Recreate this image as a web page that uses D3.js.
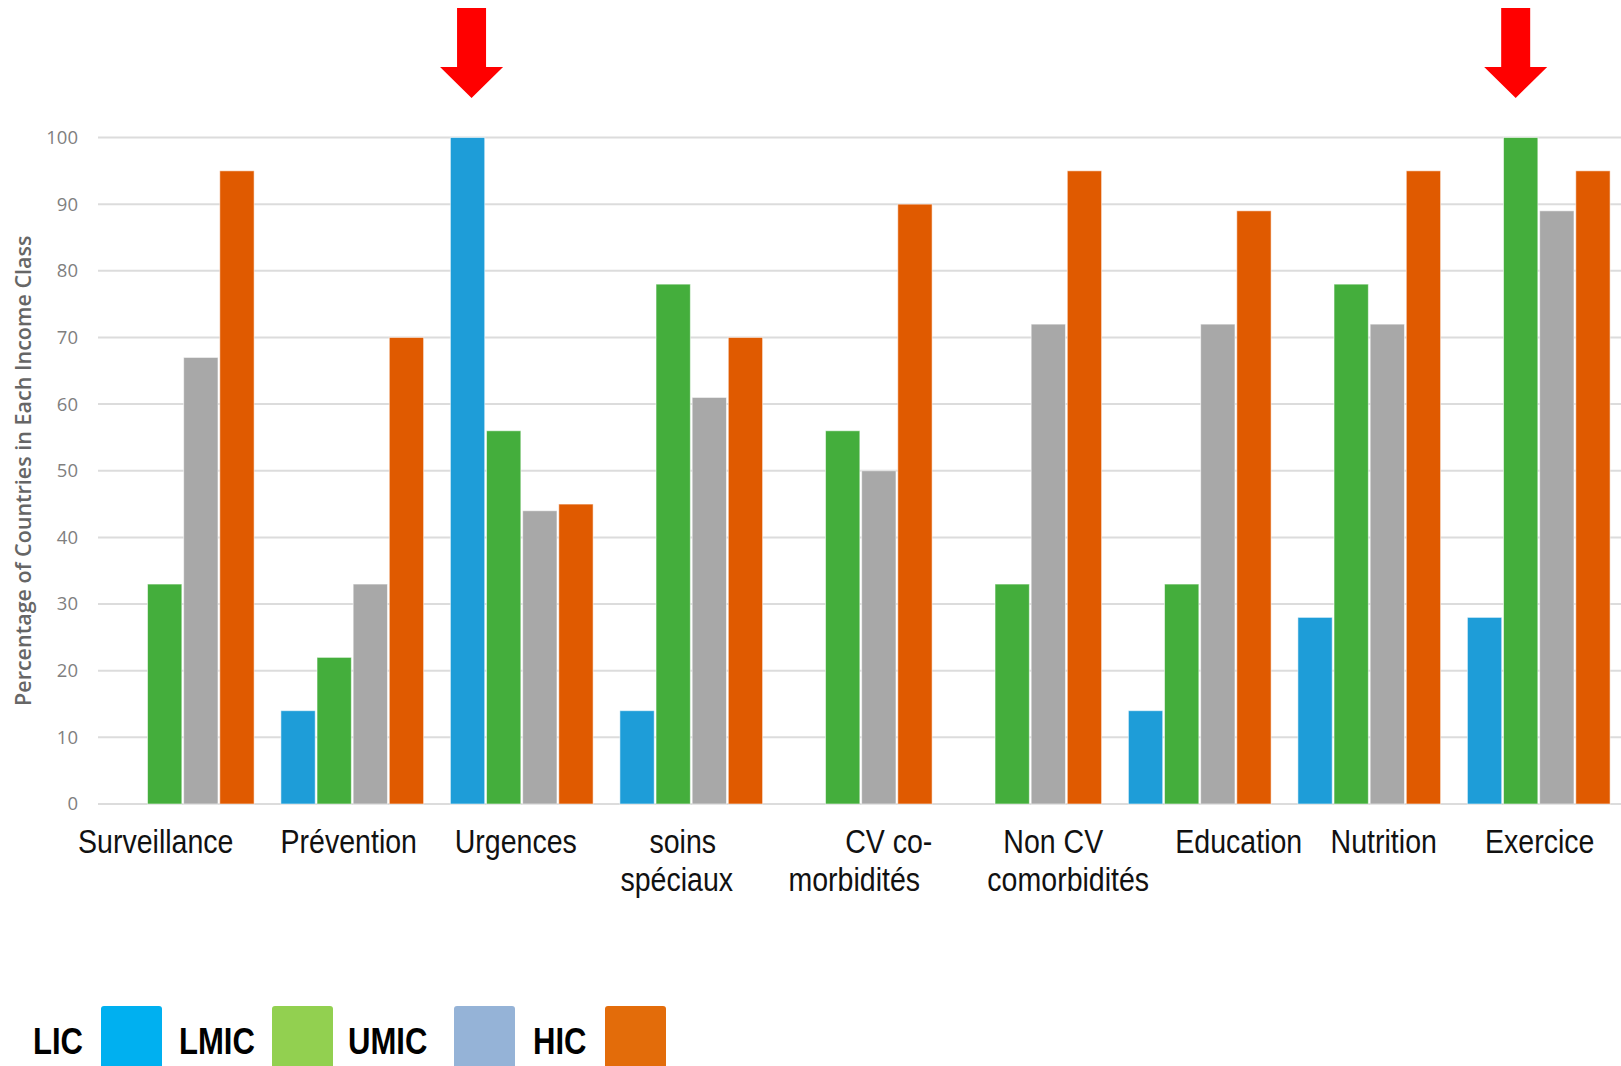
<!DOCTYPE html>
<html>
<head>
<meta charset="utf-8">
<script src="https://cdn.jsdelivr.net/npm/d3@7/dist/d3.min.js"></script>
<style>
  html, body { margin: 0; padding: 0; background: #ffffff; }
  svg { display: block; }
</style>
</head>
<body>
<svg id="chart" width="1621" height="1066"></svg>
<script>
// Interventions (categories), each label split into its display lines
const categories = [
  "Surveillance", "Prévention", "Urgences", "soins spéciaux", "CV co-morbidités",
  "Non CV comorbidités", "Education", "Nutrition", "Exercice"
];
const categoryLines = [
  ["Surveillance"], ["Prévention"], ["Urgences"], ["soins", "spéciaux"], ["CV co-", "morbidités"],
  ["Non CV", "comorbidités"], ["Education"], ["Nutrition"], ["Exercice"]
];

// Income classes
const series = ["LIC", "LMIC", "UMIC", "HIC"];

// Percentage of countries in each income class, per intervention
const lic  = [0, 14, 100, 14, 0, 0, 14, 28, 28];
const lmic = [33, 22, 56, 78, 56, 33, 33, 78, 100];
const umic = [67, 33, 44, 61, 50, 72, 72, 72, 89];
const hic  = [95, 70, 45, 70, 90, 95, 89, 95, 95];

// Y axis ticks
const yTicks = [0, 10, 20, 30, 40, 50, 60, 70, 80, 90, 100];

// Bars singled out with an arrow: [category, income class]
const highlights = [["Urgences", "LIC"], ["Exercice", "LMIC"]];

const seriesValues = { LIC: lic, LMIC: lmic, UMIC: umic, HIC: hic };
const barColors    = { LIC: "#1e9dd8", LMIC: "#44ae3c", UMIC: "#a8a8a8", HIC: "#e05a00" };
const legendColors = { LIC: "#00b0f0", LMIC: "#92d050", UMIC: "#95b3d7", HIC: "#e36c0a" };

// Layout tweaks: per-line label nudges (px from group centre), arrow nudges,
// and the legend's text / swatch positions
const labelNudge = [[-27], [-3.5], [-6], [-8.5, -14.5], [28, -6.5], [23, 38], [39], [14.5], [1]];
const arrowNudge = [4, -5];
const legendTextX = [33, 179, 348, 533];
const legendBoxX  = [101, 272, 454, 605];

// Condensed look for the label typeface
const squeeze = 0.84;

const svg = d3.select("#chart");

const plotLeft = 98, plotRight = 1623.5, plotTop = 137.5, plotBottom = 804;

const x0 = d3.scaleBand()
  .domain(categories)
  .range([plotLeft, plotRight])
  .paddingInner(0.158)
  .paddingOuter(0.079);

const x1 = d3.scaleBand()
  .domain(series)
  .range([0, x0.bandwidth()])
  .paddingInner(0.05);

const y = d3.scaleLinear().domain([0, 100]).range([plotBottom, plotTop]);

// Gridlines
svg.append("g")
  .selectAll("line")
  .data(yTicks)
  .join("line")
  .attr("x1", plotLeft)
  .attr("x2", 1621)
  .attr("y1", d => y(d))
  .attr("y2", d => y(d))
  .attr("stroke", "#dcdcdc")
  .attr("stroke-width", 2);

// Y axis tick labels
const yAxis = d3.axisLeft(y).tickValues(yTicks).tickSize(0).tickPadding(0);
const yAxisG = svg.append("g")
  .attr("transform", `translate(${78},0)`)
  .call(yAxis);
yAxisG.select(".domain").remove();
yAxisG.selectAll("text")
  .attr("font-family", "'Open Sans', sans-serif")
  .attr("font-size", 18.5)
  .attr("fill", "#7f7f7f");

// Y axis title
svg.append("text")
  .attr("transform", `translate(31,${(plotTop + plotBottom) / 2}) rotate(-90)`)
  .attr("text-anchor", "middle")
  .attr("font-family", "'Open Sans', sans-serif")
  .attr("font-weight", 600)
  .attr("font-size", 21.5)
  .attr("fill", "#666666")
  .text("Percentage of Countries in Each Income Class");

// Bars
const groups = svg.append("g")
  .selectAll("g")
  .data(categories)
  .join("g")
  .attr("transform", d => `translate(${x0(d)},0)`);

groups.selectAll("rect")
  .data((cat, i) => series.map(s => ({ cat, s, v: seriesValues[s][i] })))
  .join("rect")
  .filter(d => d.v > 0)
  .attr("x", d => x1(d.s))
  .attr("y", d => y(d.v))
  .attr("width", x1.bandwidth())
  .attr("height", d => y(0) - y(d.v))
  .attr("fill", d => barColors[d.s])
  .attr("stroke", "rgba(255,255,255,0.55)")
  .attr("stroke-width", 1);

// Category labels
const labelG = svg.append("g")
  .attr("font-family", "'Liberation Sans', Arial, sans-serif")
  .attr("font-size", 34)
  .attr("fill", "#111111")
  .attr("text-anchor", "middle");

categories.forEach((cat, i) => {
  const cx = x0(cat) + x0.bandwidth() / 2;
  categoryLines[i].forEach((line, j) => {
    labelG.append("text")
      .attr("transform", `translate(${cx + labelNudge[i][j]},${853 + j * 38}) scale(${squeeze},1)`)
      .text(line);
  });
});

// Arrows above the highlighted bars
const arrowShape = [
  [-14.5, 8], [14.5, 8], [14.5, 67], [31.5, 67], [0, 98], [-31.5, 67], [-14.5, 67]
];
highlights.forEach(([cat, s], k) => {
  const cx = x0(cat) + x1(s) + x1.bandwidth() / 2 + arrowNudge[k];
  svg.append("polygon")
    .attr("points", arrowShape.map(([dx, py]) => `${cx + dx},${py}`).join(" "))
    .attr("fill", "#ff0000");
});

// Legend along the bottom edge
const legend = svg.append("g");
series.forEach((s, k) => {
  legend.append("text")
    .attr("transform", `translate(${legendTextX[k]},1054) scale(${squeeze},1)`)
    .attr("font-family", "'Liberation Sans', Arial, sans-serif")
    .attr("font-weight", "bold")
    .attr("font-size", 37)
    .attr("fill", "#000000")
    .text(s);
  legend.append("rect")
    .attr("x", legendBoxX[k])
    .attr("y", 1006)
    .attr("width", 61)
    .attr("height", 70)
    .attr("rx", 3)
    .attr("fill", legendColors[s]);
});
</script>
</body>
</html>
